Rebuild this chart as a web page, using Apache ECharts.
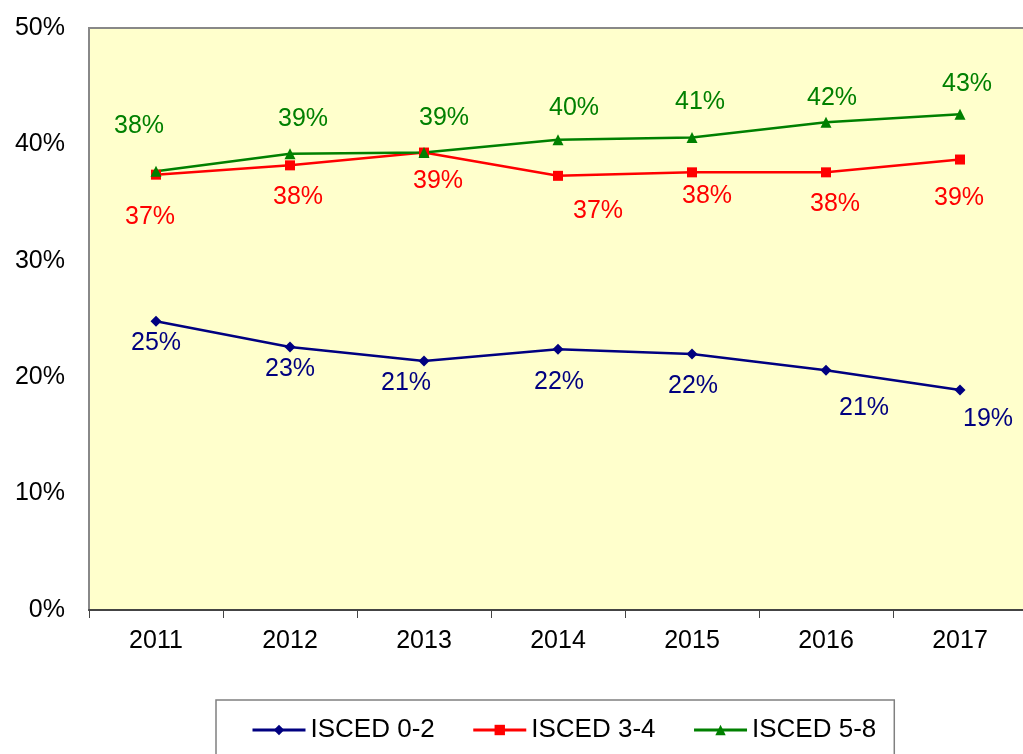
<!DOCTYPE html>
<html><head><meta charset="utf-8">
<script src="https://cdn.jsdelivr.net/npm/echarts@6/dist/echarts.min.js"></script>
<style>html,body{margin:0;padding:0;background:#fff;}#c{width:1023px;height:754px;}</style>
</head><body><div id="c"></div>
<script>
const years = ['2011','2012','2013','2014','2015','2016','2017'];
const isced02 = [24.8, 22.6, 21.4, 22.4, 22.0, 20.6, 18.9];
const isced34 = [37.4, 38.2, 39.3, 37.3, 37.6, 37.6, 38.7];
const isced58 = [37.7, 39.2, 39.3, 40.4, 40.6, 41.9, 42.6];
const seriesNames = ['ISCED 0-2', 'ISCED 3-4', 'ISCED 5-8'];

// label offsets (style only)
const off02 = [[0,22],[0,22],[-18,22],[1,33],[1,32],[38,38],[28,29]];
const off34 = [[-6,42],[8,32],[14,29],[40,35],[15,24],[9,32],[-1,39]];
const off58 = [[-17,-45],[13,-35],[20,-34],[16,-32],[8,-35],[6,-24],[7,-30]];

const FONT = 'Liberation Sans, Arial, sans-serif';

function mk(name, vals, offs, color, symbol, size) {
  return {
    name, type: 'line', data: vals.map((v, i) => ({ value: v, label: { offset: offs[i] } })),
    symbol, symbolSize: size, lineStyle: { color, width: 2.5 }, itemStyle: { color },
    label: { show: true, position: 'inside', color, fontFamily: FONT, fontSize: 25,
      formatter: p => Math.round(p.value) + '%' },
    emphasis: { disabled: true }, animation: false
  };
}

const chart = echarts.init(document.getElementById('c'));
chart.setOption({
  animation: false,
  grid: { left: 89, top: 28, width: 938, bottom: 144, outerBoundsMode: 'none', containLabel: false,
    show: true, backgroundColor: '#FFFFCC', borderColor: '#888', borderWidth: 2 },
  legend: { left: 216, top: 700, borderColor: '#808080', borderWidth: 1.5,
    padding: [17, 18, 30, 35], itemWidth: 53, itemHeight: 13, itemGap: 37,
    lineStyle: { width: 3 },
    textStyle: { fontFamily: FONT, fontSize: 26, color: '#000', padding: [0, 0, 0, 0] }, data: seriesNames },
  xAxis: { type: 'category', data: years, boundaryGap: true,
    axisLine: { lineStyle: { color: '#444', width: 2 } },
    axisTick: { show: true, length: 8, lineStyle: { color: '#444' } },
    axisLabel: { color: '#000', fontFamily: FONT, fontSize: 25, margin: 19 } },
  yAxis: { type: 'value', min: 0, max: 50, interval: 10,
    axisLine: { show: false }, axisTick: { show: false }, splitLine: { show: false },
    axisLabel: { color: '#000', fontFamily: FONT, fontSize: 25, margin: 24, formatter: '{value}%' } },
  series: [
    mk(seriesNames[0], isced02, off02, '#000080', 'diamond', 11),
    mk(seriesNames[1], isced34, off34, '#FF0000', 'rect', 10),
    mk(seriesNames[2], isced58, off58, '#008000', 'triangle', 11)
  ]
});
</script></body></html>
